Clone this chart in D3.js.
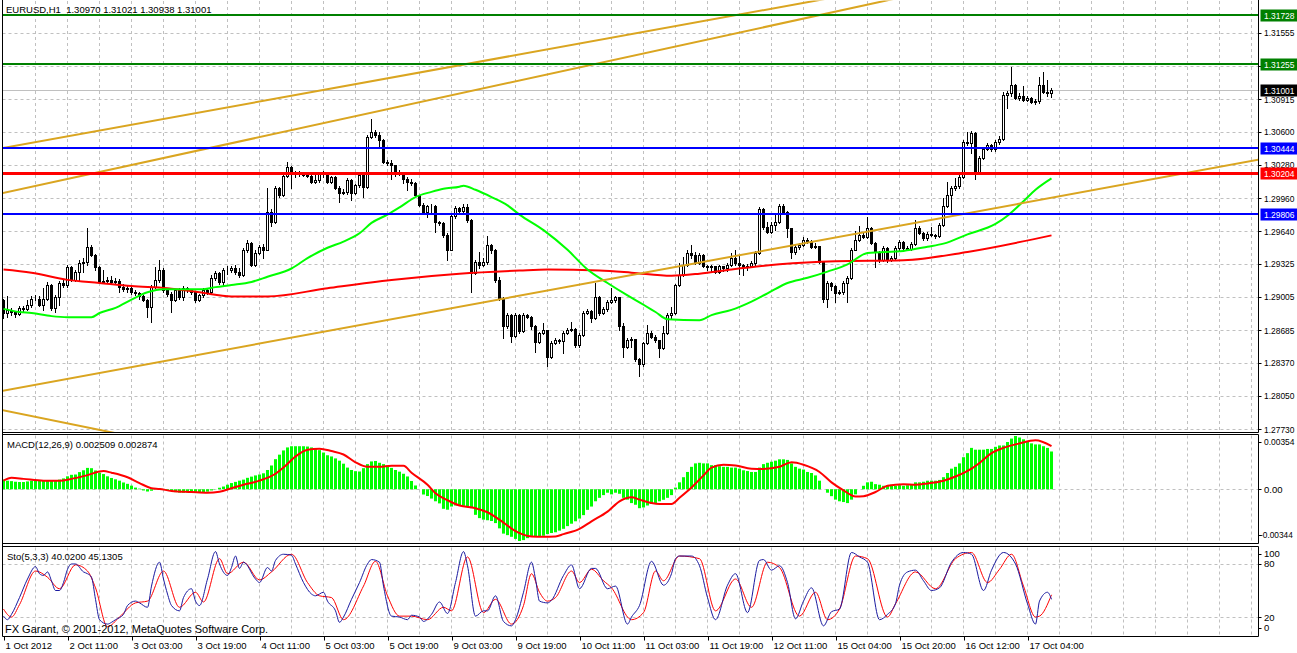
<!DOCTYPE html>
<html>
<head>
<meta charset="utf-8">
<script src="https://cdn.jsdelivr.net/npm/d3@7"></script>
<style>
html, body { margin: 0; padding: 0; background: #fff; }
svg { display: block; font-family: "Liberation Sans", Arial, sans-serif; }
</style>
</head>
<body>
<script>
// EURUSD H1 candles, one entry per hourly bar (open = previous close)
var firstOpen = 1.2898;
var closes = [
  1.2885,1.2888,1.2886,1.2884,1.2890,1.2889,1.2893,1.2899,1.2899,1.2893,
  1.2899,1.2912,1.2890,1.2900,1.2914,1.2912,1.2929,1.2917,1.2925,1.2933,
  1.2934,1.2949,1.2941,1.2929,1.2915,1.2916,1.2917,1.2915,1.2916,1.2910,
  1.2908,1.2909,1.2905,1.2904,1.2901,1.2898,1.2891,1.2910,1.2917,1.2927,
  1.2907,1.2903,1.2898,1.2907,1.2900,1.2909,1.2907,1.2905,1.2898,1.2902,
  1.2907,1.2905,1.2919,1.2924,1.2915,1.2927,1.2927,1.2928,1.2925,1.2922,
  1.2946,1.2953,1.2931,1.2943,1.2949,1.2946,1.2983,1.2973,1.3006,1.2999,
  1.3017,1.3026,1.3019,1.3020,1.3020,1.3018,1.3017,1.3012,1.3013,1.3019,
  1.3020,1.3012,1.3016,1.3006,1.3001,1.3002,1.3013,1.3001,1.3009,1.3018,
  1.3007,1.3055,1.3060,1.3057,1.3052,1.3031,1.3030,1.3028,1.3020,1.3021,
  1.3014,1.3012,1.3011,1.2999,1.2989,1.2983,1.2988,1.2988,1.2973,1.2972,
  1.2960,1.2946,1.2979,1.2986,1.2984,1.2987,1.2975,1.2924,1.2934,1.2931,
  1.2934,1.2951,1.2946,1.2917,1.2899,1.2872,1.2883,1.2863,1.2883,1.2868,
  1.2883,1.2881,1.2872,1.2857,1.2866,1.2869,1.2843,1.2856,1.2859,1.2858,
  1.2866,1.2869,1.2870,1.2854,1.2864,1.2885,1.2887,1.2880,1.2900,1.2885,
  1.2889,1.2896,1.2898,1.2900,1.2872,1.2852,1.2859,1.2860,1.2841,1.2836,
  1.2856,1.2866,1.2862,1.2859,1.2851,1.2866,1.2883,1.2885,1.2912,1.2922,
  1.2931,1.2943,1.2941,1.2933,1.2941,1.2930,1.2929,1.2930,1.2925,1.2930,
  1.2928,1.2931,1.2938,1.2933,1.2931,1.2929,1.2930,1.2933,1.2943,1.2985,
  1.2968,1.2963,1.2970,1.2973,1.2988,1.2983,1.2967,1.2944,1.2949,1.2951,
  1.2956,1.2955,1.2949,1.2950,1.2934,1.2899,1.2914,1.2911,1.2904,1.2905,
  1.2914,1.2919,1.2946,1.2956,1.2960,1.2958,1.2967,1.2953,1.2944,1.2936,
  1.2948,1.2936,1.2938,1.2948,1.2954,1.2948,1.2947,1.2952,1.2967,1.2962,
  1.2957,1.2961,1.2960,1.2959,1.2970,1.2988,1.2999,1.3006,1.3008,1.3016,
  1.3050,1.3049,1.3059,1.3021,1.3035,1.3043,1.3047,1.3043,1.3050,1.3053,
  1.3096,1.3097,1.3105,1.3093,1.3095,1.3091,1.3093,1.3089,1.3090,1.3105,
  1.3098,1.3097,1.31001
];
var highs = [
  1.2899,1.2901,1.2890,1.2887,1.2892,1.2892,1.2898,1.2901,1.2902,1.2901,
  1.2909,1.2915,1.2913,1.2902,1.2916,1.2917,1.2931,1.2930,1.2927,1.2936,
  1.2938,1.2967,1.2951,1.2942,1.2930,1.2927,1.2920,1.2921,1.2919,1.2918,
  1.2913,1.2911,1.2911,1.2907,1.2905,1.2902,1.2899,1.2912,1.2929,1.2936,
  1.2928,1.2908,1.2905,1.2908,1.2909,1.2911,1.2910,1.2908,1.2906,1.2903,
  1.2909,1.2908,1.2922,1.2926,1.2925,1.2928,1.2930,1.2930,1.2931,1.2928,
  1.2948,1.2956,1.2954,1.2946,1.2951,1.2952,1.3006,1.2985,1.3008,1.3007,
  1.3019,1.3031,1.3027,1.3022,1.3022,1.3020,1.3019,1.3018,1.3018,1.3020,
  1.3022,1.3020,1.3017,1.3017,1.3008,1.3005,1.3015,1.3014,1.3010,1.3020,
  1.3019,1.3057,1.3072,1.3062,1.3060,1.3053,1.3033,1.3033,1.3028,1.3023,
  1.3021,1.3016,1.3014,1.3012,1.2999,1.2991,1.2989,1.2990,1.2989,1.2974,
  1.2973,1.2962,1.2982,1.2988,1.2987,1.2990,1.2990,1.2976,1.2936,1.2944,
  1.2938,1.2959,1.2952,1.2947,1.2920,1.2900,1.2885,1.2884,1.2885,1.2884,
  1.2885,1.2884,1.2882,1.2873,1.2867,1.2875,1.2869,1.2858,1.2861,1.2860,
  1.2868,1.2871,1.2876,1.2871,1.2866,1.2887,1.2889,1.2888,1.2914,1.2901,
  1.2891,1.2898,1.2909,1.2901,1.2900,1.2875,1.2861,1.2862,1.2860,1.2842,
  1.2857,1.2873,1.2868,1.2864,1.2859,1.2872,1.2885,1.2891,1.2913,1.2933,
  1.2939,1.2946,1.2951,1.2944,1.2943,1.2942,1.2931,1.2931,1.2930,1.2931,
  1.2930,1.2933,1.2943,1.2946,1.2940,1.2932,1.2932,1.2935,1.2945,1.2987,
  1.2986,1.2973,1.2973,1.2982,1.2990,1.2990,1.2984,1.2967,1.2951,1.2953,
  1.2958,1.2957,1.2956,1.2953,1.2950,1.2935,1.2916,1.2915,1.2912,1.2907,
  1.2916,1.2921,1.2948,1.2964,1.2969,1.2962,1.2978,1.2968,1.2954,1.2945,
  1.2950,1.2949,1.2940,1.2950,1.2956,1.2955,1.2950,1.2954,1.2975,1.2969,
  1.2963,1.2963,1.2968,1.2961,1.2972,1.2996,1.3012,1.3008,1.3015,1.3018,
  1.3052,1.3060,1.3061,1.3060,1.3037,1.3045,1.3049,1.3048,1.3052,1.3056,
  1.3098,1.3099,1.3123,1.3106,1.3097,1.3104,1.3095,1.3094,1.3092,1.3113,
  1.3118,1.3110,1.31021
];
var lows = [
  1.2880,1.2881,1.2883,1.2881,1.2883,1.2886,1.2888,1.2891,1.2898,1.2892,
  1.2888,1.2898,1.2888,1.2886,1.2893,1.2910,1.2910,1.2916,1.2916,1.2917,
  1.2925,1.2931,1.2940,1.2927,1.2914,1.2914,1.2914,1.2913,1.2914,1.2905,
  1.2906,1.2905,1.2903,1.2902,1.2899,1.2897,1.2881,1.2876,1.2909,1.2915,
  1.2905,1.2901,1.2886,1.2897,1.2899,1.2898,1.2905,1.2903,1.2896,1.2897,
  1.2900,1.2903,1.2904,1.2917,1.2913,1.2912,1.2923,1.2925,1.2923,1.2920,
  1.2921,1.2944,1.2930,1.2930,1.2942,1.2938,1.2946,1.2969,1.2972,1.2997,
  1.2998,1.3016,1.3006,1.3016,1.3017,1.3017,1.3016,1.3011,1.3011,1.3012,
  1.3016,1.3011,1.3011,1.3005,1.2992,1.3000,1.3000,1.2994,1.3000,1.3007,
  1.2997,1.3006,1.3054,1.3055,1.3046,1.3030,1.3028,1.3014,1.3017,1.3018,
  1.3011,1.3004,1.3009,1.2998,1.2988,1.2982,1.2978,1.2983,1.2963,1.2970,
  1.2958,1.2936,1.2946,1.2977,1.2982,1.2981,1.2973,1.2905,1.2923,1.2928,
  1.2930,1.2932,1.2943,1.2915,1.2898,1.2861,1.2871,1.2857,1.2862,1.2866,
  1.2867,1.2880,1.2870,1.2847,1.2856,1.2865,1.2834,1.2842,1.2855,1.2856,
  1.2846,1.2865,1.2868,1.2852,1.2852,1.2863,1.2884,1.2876,1.2879,1.2883,
  1.2884,1.2887,1.2895,1.2896,1.2869,1.2843,1.2851,1.2852,1.2839,1.2824,
  1.2834,1.2855,1.2861,1.2857,1.2843,1.2850,1.2865,1.2880,1.2884,1.2911,
  1.2921,1.2930,1.2938,1.2932,1.2932,1.2929,1.2927,1.2926,1.2924,1.2924,
  1.2926,1.2926,1.2930,1.2931,1.2923,1.2922,1.2927,1.2929,1.2930,1.2942,
  1.2966,1.2962,1.2962,1.2965,1.2972,1.2982,1.2958,1.2938,1.2942,1.2947,
  1.2950,1.2953,1.2948,1.2948,1.2933,1.2896,1.2891,1.2907,1.2896,1.2903,
  1.2903,1.2896,1.2918,1.2946,1.2955,1.2957,1.2957,1.2952,1.2929,1.2934,
  1.2935,1.2934,1.2935,1.2936,1.2946,1.2947,1.2946,1.2946,1.2951,1.2961,
  1.2956,1.2956,1.2959,1.2957,1.2958,1.2969,1.2987,1.2983,1.3004,1.3006,
  1.3015,1.3047,1.3040,1.3014,1.3020,1.3034,1.3042,1.3041,1.3041,1.3048,
  1.3052,1.3083,1.3095,1.3092,1.3091,1.3090,1.3090,1.3088,1.3087,1.3088,
  1.3097,1.3095,1.30938
];

// moving averages: [bar, price]
var maFast = [[0,1.2889],[4,1.2886],[7,1.2885],[12,1.2882],[16,1.2881],[22,1.2881],[24,1.2885],[28,1.2890],
  [32,1.2898],[36,1.2905],[40,1.2908],[45,1.2908],[50,1.2908],[53,1.2910],[57,1.2912],[62,1.2915],[66,1.2920],
  [72,1.2928],[76,1.2938],[81,1.2948],[85,1.2954],[89,1.2962],[92,1.2972],[96,1.2980],[99,1.2987],[103,1.2997],
  [107,1.3002],[110,1.3005],[114,1.3007],[115,1.3008],[118,1.3004],[122,1.2997],[126,1.2989],[129,1.2980],
  [135,1.2965],[141,1.2946],[146,1.2927],[151,1.2914],[156,1.2902],[160,1.2893],[163,1.2886],[166,1.2879],
  [174,1.2878],[177,1.2883],[182,1.2888],[187,1.2896],[191,1.2904],[196,1.2914],[201,1.2919],[206,1.2925],
  [211,1.2932],[216,1.2943],[225,1.2945],[231,1.2949],[235,1.2952],[241,1.2961],[248,1.2971],[251,1.2979],
  [255,1.2993],[258,1.3004],[262,1.3015]];
var maSlow = [[0,1.2927],[7,1.2924],[16,1.2917],[24,1.2914],[32,1.2911],[41,1.2909],[49,1.2905],[57,1.2901],
  [66,1.2901],[81,1.2909],[97,1.2917],[114,1.2923],[129,1.2926],[136,1.2927],[149,1.2926],[157,1.2924],
  [167,1.2921],[174,1.2923],[182,1.2927],[194,1.2932],[208,1.2935],[225,1.2936],[241,1.2944],[262,1.2960]];

// MACD(12,26,9), in units of 0.00001
var macdHist = [
  64,57,54,50,48,48,52,57,59,57, 60,60,59,58,64,72,86,96,98,114,
  126,142,140,125,110,101,86,75,66,57, 45,36,24,11,4,-8,-15,-10,-2,5,
  2,-7,-11,-19,-22,-23,-21,-17,-24,-24, -19,-16,-8,1,10,18,30,41,49,57,
  64,76,84,92,98,106,128,158,200,230, 258,278,286,286,286,286,284,278,270,260,
  244,226,218,205,190,170,144,128,120,118, 140,167,185,188,176,167,158,142,128,117,
  103,85,55,25,0,-35,-45,-62,-80,-94, -130,-136,-115,-108,-111,-110,-115,-126,-170,-192,
  -202,-206,-211,-225,-260,-295,-305,-316,-330,-344, -338,-325,-314,-312,-314,-309,-298,-291,-286,-275,
  -263,-245,-229,-213,-195,-172,-137,-115,-80,-57, -39,-23,-34,-23,-30,-57,-69,-92,-103,-126,
  -121,-108,-98,-92,-80,-70,-57,-39,11,46, 80,115,149,172,176,172,172,160,160,153,
  149,149,144,144,137,126,121,115,115,144, 167,176,183,190,199,199,195,172,149,137,
  131,115,108,92,57,0,-23,-46,-69,-80, -85,-92,-69,-34,0,23,46,50,34,30,
  23,27,30,23,27,23,27,34,46,46, 50,57,57,57,62,80,108,137,149,172,
  213,240,275,263,263,263,268,268,282,291, 291,314,337,354,344,332,314,305,298,298,
  286,275,251
];
var macdSignal = [[0,57],[2,76],[5,69],[10,57],[14,57],[17,69],[21,94],[25,121],[27,110],[31,80],[34,41],
  [37,7],[39,2],[42,-11],[47,-18],[51,-23],[54,-16],[57,7],[60,30],[64,57],[68,103],[70,144],[73,218],
  [76,263],[79,270],[82,254],[85,231],[88,179],[91,149],[94,149],[97,156],[100,156],[102,110],[106,30],
  [108,-27],[111,-73],[114,-108],[118,-126],[121,-153],[125,-222],[128,-279],[132,-314],[135,-316],
  [138,-314],[140,-298],[144,-263],[147,-213],[151,-149],[154,-80],[157,-53],[159,-69],[162,-92],[164,-98],
  [167,-98],[169,-57],[172,11],[175,92],[177,144],[180,163],[183,158],[187,137],[190,135],[194,149],
  [197,179],[200,163],[204,115],[207,46],[210,-7],[213,-48],[215,-46],[218,-18],[221,23],[225,34],[228,30],
  [231,39],[235,57],[238,85],[242,137],[244,175],[247,240],[250,275],[254,305],[258,325],[262,287]];

// Stochastic(5,3,3): [bar, value]
var stochMain = [[0,21],[1,17],[2,23],[4,42],[6,63],[8,77],[9,69],[10,67],[11,71],[12,61],[13,50],[14,50],
  [15,59],[16,74],[17,80],[18,80],[20,71],[21,69],[22,65],[23,40],[24,17],[26,12],[27,14],[28,17],[30,23],
  [31,33],[33,38],[34,36],[36,31],[37,55],[39,82],[40,63],[41,46],[42,33],[44,27],[45,42],[47,52],[48,38],
  [49,33],[51,63],[53,94],[54,80],[56,67],[57,76],[58,89],[59,75],[60,82],[63,63],[64,59],[66,76],[67,72],
  [68,84],[70,91],[72,90],[73,80],[75,59],[77,46],[78,44],[80,48],[81,38],[83,27],[84,14],[85,20],[87,40],
  [89,59],[91,80],[92,85],[94,82],[95,55],[97,21],[99,20],[101,17],[102,22],[104,20],[105,15],[107,23],
  [109,37],[111,24],[113,59],[115,94],[116,78],[118,21],[120,27],[121,27],[123,44],[125,15],[127,10],
  [128,17],[130,48],[132,82],[133,63],[134,38],[136,36],[137,39],[140,67],[142,79],[144,52],[147,75],
  [148,75],[151,52],[153,55],[156,12],[157,20],[159,33],[162,83],[165,56],[167,69],[168,86],[169,89],
  [172,89],[174,78],[176,42],[178,17],[181,56],[183,69],[186,25],[189,84],[190,85],[192,73],[194,78],
  [196,59],[198,18],[200,38],[202,53],[205,10],[207,26],[209,29],[212,93],[214,88],[216,82],[219,17],
  [221,23],[223,35],[224,56],[226,71],[228,73],[230,61],[232,50],[234,53],[237,82],[240,93],[242,91],
  [245,50],[247,73],[250,93],[253,80],[256,35],[258,12],[259,38],[261,48],[262,40.02]];
var stochSignal = [[0,29],[2,20],[4,34],[8,72],[11,65],[14,52],[18,79],[21,72],[23,53],[26,9],[29,20],
  [33,36],[36,38],[40,72],[44,31],[48,48],[50,37],[54,86],[56,69],[60,82],[64,62],[67,71],[72,91],[76,59],
  [79,44],[82,42],[85,17],[90,55],[93,83],[96,44],[99,21],[102,21],[106,17],[110,31],[112,27],[116,88],
  [120,25],[123,40],[127,12],[130,33],[132,69],[134,48],[136,38],[138,42],[142,72],[144,59],[147,74],
  [150,61],[152,53],[157,17],[160,25],[163,72],[165,61],[169,89],[174,86],[178,27],[183,63],[187,31],
  [191,82],[194,76],[199,21],[203,48],[206,17],[209,29],[213,89],[216,86],[221,20],[223,35],[228,71],
  [233,52],[238,86],[242,93],[246,59],[249,74],[252,91],[255,55],[258,20],[259,21],[262,45.13]];

// levels and drawn objects
var priceTicks = [1.31555,1.31235,1.30915,1.30600,1.30280,1.29960,1.29640,1.29325,1.29005,1.28685,1.28370,1.28050,1.27730];
var greenLevels = [1.31728, 1.31255];
var blueLevels = [1.30444, 1.29806];
var redLevels = [1.30204];
var bid = 1.31001;
var trendLines = [[0,1.30444,200,1.31845],[0,1.30010,218,1.31845],[0,1.28100,313.6,1.30330],[0,1.27910,26.6,1.27701]];
var macdTicks = [0.00354, 0, -0.00344];
var stochTicks = [100, 80, 20, 0];
var dateLabels = ['1 Oct 2012','2 Oct 11:00','3 Oct 03:00','3 Oct 19:00','4 Oct 11:00','5 Oct 03:00','5 Oct 19:00',
  '9 Oct 03:00','9 Oct 19:00','10 Oct 11:00','11 Oct 03:00','11 Oct 19:00','12 Oct 11:00','15 Oct 04:00',
  '15 Oct 20:00','16 Oct 12:00','17 Oct 04:00'];

var W = 1297, H = 653, L = 2.5, R = 1258.5;
var panels = { main: [0, 432.5], macd: [434.5, 543.5], sto: [546.5, 636.5] };
var grid = '#c0c0c0';

var svg = d3.select('body').append('svg').attr('width', W).attr('height', H);
svg.append('rect').attr('width', W).attr('height', H).attr('fill', '#fff');

var x = d3.scaleLinear().domain([0, 1]).range([3.5, 7.5]);
var y = d3.scaleLinear().domain([1.27730, 1.31728]).range([429, 15]);
var ym = d3.scaleLinear().domain([-0.00344, 0.00354]).range([541, 436]);
var ys = d3.scaleLinear().domain([0, 100]).range([634.7, 546.3]);
var unit = 0.00001;

var defs = svg.append('defs');
Object.keys(panels).forEach(function(k) {
  defs.append('clipPath').attr('id', 'clip-' + k).append('rect')
    .attr('x', L + 0.5).attr('y', panels[k][0] + 0.5)
    .attr('width', R - L - 1).attr('height', panels[k][1] - panels[k][0] - 1);
});

function dashed(g, x1, y1, x2, y2) {
  g.append('line').attr('x1', x1).attr('y1', y1).attr('x2', x2).attr('y2', y2)
    .attr('stroke', grid).attr('stroke-dasharray', '3,3');
}

// vertical grid in each panel
Object.keys(panels).forEach(function(k) {
  var g = svg.append('g');
  d3.range(8, 313, 8).forEach(function(b) {
    dashed(g, x(b), panels[k][0] + 1, x(b), panels[k][1]);
  });
});
var gh = svg.append('g');
priceTicks.forEach(function(v) { var yy = Math.round(y(v)) + 0.5; dashed(gh, L, yy, R, yy); });
dashed(gh, L, Math.round(ym(0)) + 0.5, R, Math.round(ym(0)) + 0.5);
[80, 20].forEach(function(v) { var yy = Math.round(ys(v)) + 0.5; dashed(gh, L, yy, R, yy); });

// ---- main panel
var gMain = svg.append('g').attr('clip-path', 'url(#clip-main)');

gMain.append('line').attr('x1', L).attr('x2', R)
  .attr('y1', Math.round(y(bid)) + 0.5).attr('y2', Math.round(y(bid)) + 0.5)
  .attr('stroke', '#c0c0c0');

closes.forEach(function(c, i) {
  var o = i === 0 ? firstOpen : closes[i - 1];
  var hi = Math.max(highs[i], o, c), lo = Math.min(lows[i], o, c);
  var cx = x(i);
  gMain.append('line').attr('x1', cx).attr('x2', cx)
    .attr('y1', Math.round(y(hi))).attr('y2', Math.round(y(lo)) + 1)
    .attr('stroke', '#000');
  var top = Math.round(y(Math.max(o, c))), bot = Math.round(y(Math.min(o, c)));
  if (c >= o) {
    gMain.append('rect').attr('x', cx - 1).attr('y', top + 0.5)
      .attr('width', 2).attr('height', Math.max(0, bot - top))
      .attr('fill', '#fff').attr('stroke', '#000');
  } else {
    gMain.append('rect').attr('x', cx - 1.5).attr('y', top)
      .attr('width', 3).attr('height', Math.max(1, bot - top + 1))
      .attr('fill', '#000');
  }
});

var maLine = d3.line().x(function(d) { return x(d[0]); }).y(function(d) { return y(d[1]); })
  .curve(d3.curveMonotoneX);
gMain.append('path').attr('d', maLine(maSlow)).attr('fill', 'none').attr('stroke', '#ff0000').attr('stroke-width', 2);
gMain.append('path').attr('d', maLine(maFast)).attr('fill', 'none').attr('stroke', '#00ff00').attr('stroke-width', 2);

trendLines.forEach(function(t) {
  var s = (t[3] - t[1]) / (t[2] - t[0]);
  gMain.append('line')
    .attr('x1', x(-5)).attr('y1', y(t[1] + s * (-5 - t[0])))
    .attr('x2', x(330)).attr('y2', y(t[1] + s * (330 - t[0])))
    .attr('stroke', '#daa520').attr('stroke-width', 2);
});

function level(g, v, color, w) {
  var yy = Math.round(y(v)) + (w % 2 ? 0.5 : 0);
  g.append('line').attr('x1', L).attr('x2', R).attr('y1', yy).attr('y2', yy)
    .attr('stroke', color).attr('stroke-width', w);
}
greenLevels.forEach(function(v) { level(gMain, v, '#008000', 2); });
blueLevels.forEach(function(v) { level(gMain, v, '#0000ff', 2); });
redLevels.forEach(function(v) { level(gMain, v, '#ff0000', 3); });

// ---- MACD panel
var gMacd = svg.append('g').attr('clip-path', 'url(#clip-macd)');
var z = ym(0);
gMacd.selectAll('rect.h').data(macdHist).enter().append('rect')
  .attr('x', function(d, i) { return x(i) - 1.5; })
  .attr('width', 3)
  .attr('y', function(d) { return Math.min(ym(d * unit), z); })
  .attr('height', function(d) { return Math.abs(ym(d * unit) - z); })
  .attr('fill', '#00ff00');
gMacd.append('path')
  .attr('d', d3.line().x(function(d) { return x(d[0]); }).y(function(d) { return ym(d[1] * unit); })
    .curve(d3.curveMonotoneX)(macdSignal))
  .attr('fill', 'none').attr('stroke', '#ff0000').attr('stroke-width', 2);

// ---- Stochastic panel
var gSto = svg.append('g').attr('clip-path', 'url(#clip-sto)');
var stoLine = d3.line().x(function(d) { return x(d[0]); }).y(function(d) { return ys(d[1]); })
  .curve(d3.curveMonotoneX);
gSto.append('path').attr('d', stoLine(stochSignal)).attr('fill', 'none').attr('stroke', '#ff0000').attr('stroke-width', 1);
gSto.append('path').attr('d', stoLine(stochMain)).attr('fill', 'none').attr('stroke', '#1a1aa0').attr('stroke-width', 1);

// ---- frames
var fr = svg.append('g').attr('stroke', '#000').attr('fill', 'none');
fr.append('line').attr('x1', L).attr('x2', L).attr('y1', 0).attr('y2', panels.sto[1]);
Object.keys(panels).forEach(function(k) {
  var p = panels[k];
  fr.append('line').attr('x1', R).attr('x2', R).attr('y1', p[0]).attr('y2', p[1]);
  if (k !== 'main') fr.append('line').attr('x1', L).attr('x2', R).attr('y1', p[0]).attr('y2', p[0]);
  fr.append('line').attr('x1', L).attr('x2', R).attr('y1', p[1]).attr('y2', p[1]);
});

// ---- right axis labels (squeezed so they stay inside the window)
var ax = svg.append('g').attr('font-size', '9.5px').attr('fill', '#000');
function fit(t, txt) {
  if (txt.charAt(0) === '-') t.attr('font-size', '8.3px');
  else if (txt.length >= 7) t.attr('textLength', 30.5).attr('lengthAdjust', 'spacingAndGlyphs');
  return t;
}
function axisLabel(txt, yy) {
  ax.append('line').attr('x1', R).attr('x2', R + 3).attr('y1', Math.round(yy) + 0.5).attr('y2', Math.round(yy) + 0.5)
    .attr('stroke', '#000');
  fit(ax.append('text').attr('x', txt.charAt(0) === '-' ? 1260 : 1264).attr('y', yy + 3.5).text(txt), txt);
}
function clampY(v, p) { return Math.max(p[0] + 7, Math.min(p[1] - 9, v)); }
priceTicks.forEach(function(v) { axisLabel(v.toFixed(5), y(v)); });
macdTicks.forEach(function(v) { axisLabel(v === 0 ? '0.00' : v.toFixed(5), clampY(ym(v), panels.macd)); });
stochTicks.forEach(function(v) { axisLabel(String(v), clampY(ys(v), panels.sto)); });

function tag(v, color) {
  var yy = Math.round(y(v));
  ax.append('rect').attr('x', R + 2).attr('y', yy - 5.5).attr('width', 40).attr('height', 12).attr('fill', color);
  fit(ax.append('text').attr('x', 1264).attr('y', yy + 4).attr('fill', '#fff').text(v.toFixed(5)), '1.00000');
}
greenLevels.forEach(function(v) { tag(v, '#008000'); });
tag(bid, '#000');
blueLevels.forEach(function(v) { tag(v, '#0000ff'); });
redLevels.forEach(function(v) { tag(v, '#ff0000'); });

// ---- time axis
var tx = svg.append('g').attr('font-size', '9.5px').attr('fill', '#000');
dateLabels.forEach(function(s, k) {
  var xx = Math.round(x(k * 16)) + 0.5;
  tx.append('line').attr('x1', xx).attr('x2', xx).attr('y1', panels.sto[1]).attr('y2', panels.sto[1] + 4).attr('stroke', '#000');
  tx.append('text').attr('x', xx + 1).attr('y', 649).text(s);
});

// ---- captions
var cap = svg.append('g').attr('fill', '#000').attr('font-size', '9.5px');
cap.append('text').attr('x', 6).attr('y', 13)
  .text('EURUSD,H1  1.30970 1.31021 1.30938 1.31001').style('white-space', 'pre');
cap.append('text').attr('x', 7).attr('y', 448).text('MACD(12,26,9) 0.002509 0.002874');
cap.append('text').attr('x', 7).attr('y', 560).text('Sto(5,3,3) 40.0200 45.1305');
cap.append('text').attr('x', 5).attr('y', 633).attr('font-size', '11px')
  .text('FX Garant, \u00a9 2001-2012, MetaQuotes Software Corp.');
</script>
</body>
</html>
